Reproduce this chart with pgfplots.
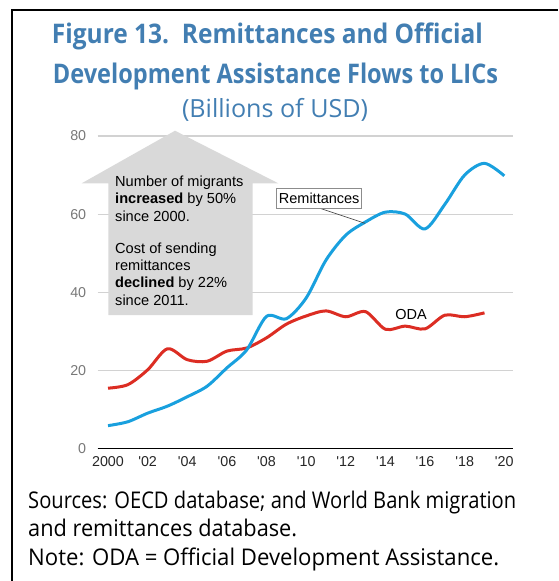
\documentclass[border=0pt]{standalone}
\usepackage{fontspec}
\setmainfont{Liberation Sans}
\newfontfamily\titlefont{Open Sans}
\usepackage{graphicx}
\usepackage{pgfplots}
\usepackage{pgfplotstable}
\pgfplotsset{compat=1.18}

\definecolor{remblue}{RGB}{25,160,222}
\definecolor{odared}{RGB}{220,45,35}
\definecolor{titleblue}{RGB}{66,126,178}
\definecolor{boxgray}{RGB}{217,217,217}
\definecolor{gridgray}{RGB}{210,210,210}
\definecolor{labgray}{RGB}{120,120,120}

% Remittances and ODA to LICs, billions of USD
\pgfplotstableread{
year  rem
2000  5.8
2001  6.8
2002  9.0
2003  10.8
2004  13.2
2005  15.9
2006  20.6
2007  25.2
2008  33.8
2009  33.2
2010  38.5
2011  48.2
2012  54.6
2013  58.0
2014  60.5
2015  60.0
2016  56.2
2017  62.5
2018  70.0
2019  73.0
2020  69.8
}\remdata

\pgfplotstableread{
year  oda
2000  15.4
2001  16.3
2002  20.1
2003  25.5
2004  22.7
2005  22.3
2006  24.9
2007  25.7
2008  28.3
2009  31.8
2010  33.9
2011  35.2
2012  33.7
2013  35.0
2014  30.5
2015  31.3
2016  30.6
2017  34.1
2018  33.7
2019  34.7
}\odadata

\newcommand\fitw[2]{\resizebox{#1}{\height}{#2}}

\begin{document}
\begin{tikzpicture}[x=1pt,y=1pt]
\useasboundingbox (0,0) rectangle (558,-581);

% frame
\draw[line width=2.6pt] (12,-581) -- (12,-10) -- (558,-10);

% titles
\begin{scope}[every node/.style={anchor=base, text=titleblue, inner sep=0}]
\node[font=\titlefont\bfseries\fontsize{27}{30}\selectfont] at (267.4,-43)
  {\fitw{431pt}{Figure 13.\ \ Remittances and Official}};
\node[font=\titlefont\bfseries\fontsize{27}{30}\selectfont] at (275.5,-83)
  {\fitw{445pt}{Development Assistance Flows to LICs}};
\node[font=\titlefont\fontsize{25}{28}\selectfont] at (275,-117.5)
  {\fitw{186pt}{(Billions of USD)}};
\end{scope}

\begin{axis}[
    at={(97.7pt,-448.3pt)}, anchor=south west,
    scale only axis,
    width=415.5pt, height=312.3pt,
    xmin=1999.48, xmax=2020.45,
    ymin=0, ymax=80,
    axis x line*=bottom, axis y line*=left,
    x axis line style={black, line width=1.4pt, -},
    y axis line style={draw=none},
    major tick length=0pt,
    xtick={2000,2002,...,2020},
    xticklabels={2000,\textquotesingle02,\textquotesingle04,\textquotesingle06,\textquotesingle08,\textquotesingle10,\textquotesingle12,\textquotesingle14,\textquotesingle16,\textquotesingle18,\textquotesingle20},
    ytick={0,20,40,60,80},
    ymajorgrids,
    grid style={gridgray, line width=1.1pt},
    tick label style={font=\fontsize{14.3}{16}\selectfont},
    xticklabel style={text=black!85, yshift=-5pt},
    yticklabel style={text=labgray, xshift=-8pt},
    /pgf/number format/assume math mode=true,
    clip=false,
]
\addplot[odared, line width=3pt, smooth, tension=0.5] table[x=year, y=oda] {\odadata};
\addplot[remblue, line width=3pt, smooth, tension=0.5] table[x=year, y=rem] {\remdata};
\node[font=\fontsize{14.5}{16}\selectfont] at (axis cs:2015.3,34.2) {ODA};
\end{axis}

% annotation arrow
\fill[boxgray] (175,-130.7) -- (278.3,-183.3) -- (252.7,-183.3) -- (252.7,-315)
  -- (108.3,-315) -- (108.3,-183.3) -- (81.7,-183.3) -- cycle;
\begin{scope}[every node/.style={anchor=base west, inner sep=0, font=\fontsize{14.6}{16}\selectfont}]
\node at (115,-186.7) {Number of migrants};
\node at (115,-203.9) {\textbf{increased} by 50\%};
\node at (115,-221.1) {since 2000.};
\node at (115,-253.4) {Cost of sending};
\node at (115,-270.6) {remittances};
\node at (115,-287.8) {\textbf{declined} by 22\%};
\node at (115,-305.0) {since 2011.};
\end{scope}

% remittances callout
\draw[black!75, line width=0.6pt] (320,-208.3) -- (365,-223.3);
\node[draw=black!45, line width=0.6pt, fill=white, minimum width=85pt, minimum height=19.7pt,
  inner sep=0, font=\fontsize{14.5}{16}\selectfont] at (319.2,-198.2) {Remittances};

% sources
\begin{scope}[every node/.style={anchor=base west, inner sep=0, font=\titlefont\fontsize{23}{26}\selectfont}]
\node at (28,-508) {\fitw{488pt}{Sources: OECD database; and World Bank migration}};
\node at (28,-536.7) {\fitw{269pt}{and remittances database.}};
\node at (28,-565) {\fitw{471pt}{Note: ODA = Official Development Assistance.}};
\end{scope}
\end{tikzpicture}
\end{document}
